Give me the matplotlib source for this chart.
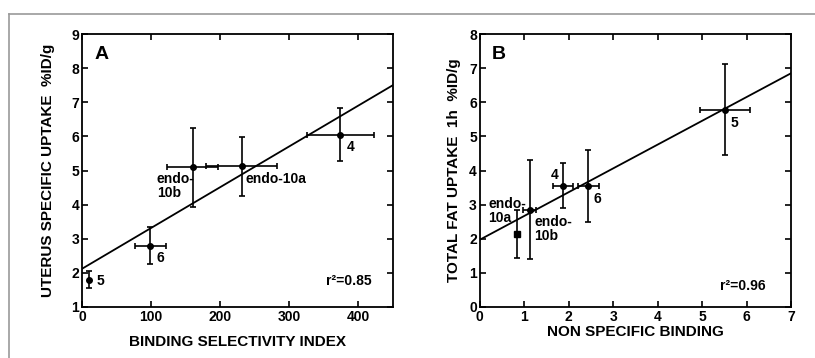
import matplotlib
matplotlib.use("Agg")
import matplotlib.pyplot as plt
from matplotlib.lines import Line2D
import numpy as np

plt.rcParams['font.family'] = ['Liberation Sans', 'DejaVu Sans']
plt.rcParams['font.weight'] = 'bold'

# Panel A data
a_labels = ["5", "6", "endo-\n10b", "endo-10a", "4"]
a_x = [10, 99, 160, 231, 374]
a_y = [1.80, 2.80, 5.09, 5.12, 6.05]
a_xerr = [0, 22, 37, 51, 48]
a_yerr = [0.25, 0.55, 1.15, 0.86, 0.78]
a_fit = [2.12, 0.01196]   # intercept, slope
a_r2 = "r\u00b2=0.85"

# Panel B data
b_labels = ["endo-\n10a", "endo-\n10b", "4", "6", "5"]
b_x = [0.84, 1.12, 1.87, 2.44, 5.52]
b_y = [2.15, 2.85, 3.56, 3.55, 5.78]
b_xerr = [0, 0.15, 0.22, 0.24, 0.56]
b_yerr = [0.70, 1.45, 0.66, 1.05, 1.33]
b_fit = [1.97, 0.697]
b_r2 = "r\u00b2=0.96"

fig = plt.figure(figsize=(8.15, 3.58), dpi=100)

# outer frame
fig.add_artist(Line2D([9/815, 9/815], [344/358, 0], transform=fig.transFigure, color='#9a9a9a', lw=1.2))
fig.add_artist(Line2D([9/815, 1], [344/358, 344/358], transform=fig.transFigure, color='#9a9a9a', lw=1.2))

axA = fig.add_axes([82/815, 51/358, 311/815, 273/358])
axB = fig.add_axes([479.7/815, 51/358, 311.3/815, 273/358])

FS = 10

def style(ax):
    for s in ax.spines.values():
        s.set_linewidth(1.3)
    ax.tick_params(direction='in', top=True, right=True, length=4, width=1.2,
                   labelsize=10, pad=2)
    for t in ax.get_xticklabels() + ax.get_yticklabels():
        t.set_fontweight('bold')

# Panel A
axA.set_xlim(0, 450)
axA.set_ylim(1, 9)
axA.set_xticks([0, 100, 200, 300, 400])
axA.set_yticks(range(1, 10))
xx = np.array([0, 450])
axA.plot(xx, a_fit[0] + a_fit[1]*xx, color='black', lw=1.3)
axA.errorbar(a_x, a_y, xerr=a_xerr, yerr=a_yerr, fmt='o', color='black', ms=4,
             capsize=2.5, elinewidth=1.2, capthick=1.2)
axA.text(21, 1.77, a_labels[0], fontsize=FS, fontweight='bold', va='center')
axA.text(108, 2.45, a_labels[1], fontsize=FS, fontweight='bold', va='center')
axA.text(108, 4.97, a_labels[2], fontsize=FS, fontweight='bold', va='top', linespacing=1.0)
axA.text(237, 4.76, a_labels[3], fontsize=FS, fontweight='bold', va='center')
axA.text(383, 5.7, a_labels[4], fontsize=FS, fontweight='bold', va='center')
axA.text(419, 1.75, a_r2, fontsize=FS, ha='right', va='center')
axA.text(0.04, 0.955, "A", transform=axA.transAxes, fontsize=14, fontweight='bold', va='top')
axA.set_xlabel("BINDING SELECTIVITY INDEX", fontsize=11, fontweight='bold', labelpad=8)
axA.set_ylabel("UTERUS SPECIFIC UPTAKE  %ID/g", fontsize=11, fontweight='bold', labelpad=12)
style(axA)

# Panel B
axB.set_xlim(0, 7)
axB.set_ylim(0, 8)
axB.set_xticks(range(0, 8))
axB.set_yticks(range(0, 9))
xx = np.array([0, 7])
axB.plot(xx, b_fit[0] + b_fit[1]*xx, color='black', lw=1.3)
axB.errorbar(b_x[1:], b_y[1:], xerr=b_xerr[1:], yerr=b_yerr[1:], fmt='o', color='black', ms=4,
             capsize=2.5, elinewidth=1.2, capthick=1.2)
axB.errorbar(b_x[:1], b_y[:1], yerr=b_yerr[:1], fmt='s', color='black', ms=5,
             capsize=2.5, elinewidth=1.2, capthick=1.2)
axB.text(0.19, 3.22, b_labels[0], fontsize=FS, fontweight='bold', va='top', linespacing=1.0)
axB.text(1.23, 2.69, b_labels[1], fontsize=FS, fontweight='bold', va='top', linespacing=1.0)
axB.text(1.77, 3.88, b_labels[2], fontsize=FS, fontweight='bold', va='center', ha='right')
axB.text(2.57, 3.17, b_labels[3], fontsize=FS, fontweight='bold', va='center')
axB.text(5.64, 5.39, b_labels[4], fontsize=FS, fontweight='bold', va='center')
axB.text(6.44, 0.63, b_r2, fontsize=FS, ha='right', va='center')
axB.text(0.04, 0.955, "B", transform=axB.transAxes, fontsize=14, fontweight='bold', va='top')
axB.set_xlabel("NON SPECIFIC BINDING", fontsize=11, fontweight='bold', labelpad=1)
axB.set_ylabel("TOTAL FAT UPTAKE  1h  %ID/g", fontsize=11, fontweight='bold', labelpad=6)
style(axB)

fig.savefig("out.png", dpi=100)
